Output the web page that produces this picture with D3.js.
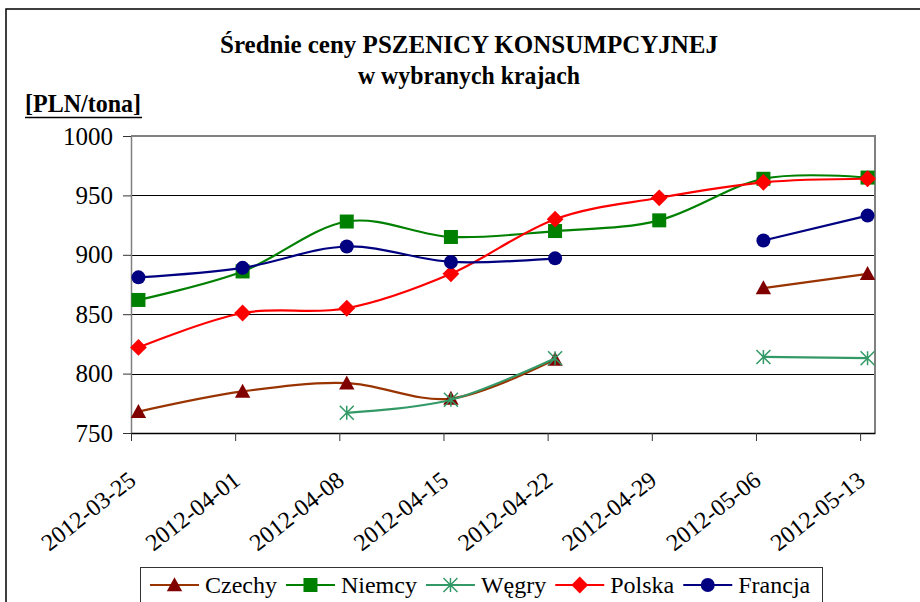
<!DOCTYPE html>
<html>
<head>
<meta charset="utf-8">
<script src="https://cdn.jsdelivr.net/npm/d3@7"></script>
<style>
  body { margin: 0; background: #fff; }
</style>
</head>
<body>
<div id="chart"></div>
<script>
"use strict";

// dates (weekly) and prices in PLN/tona, null = no quote
var dates = ["2012-03-25", "2012-04-01", "2012-04-08", "2012-04-15",
             "2012-04-22", "2012-04-29", "2012-05-06", "2012-05-13"];
var czechy  = [768, 785, 792, 779, 812, null, 872, 884];
var niemcy  = [862, 886, 928, 915, 920, 929, 964, 965];
var wegry   = [null, null, 767, 778, 813, null, 814, 813];
var polska  = [822, 851, 855, 884, 930, 948, 961, 964];
var francja = [881, 889, 907, 894, 897, null, 912, 933];
var yTicks = [750, 800, 850, 900, 950, 1000];

var series = [
    {name: "Czechy",  values: czechy,  line: "#993300", fill: "#800000", shape: "triangle"},
    {name: "Niemcy",  values: niemcy,  line: "#008000", fill: "#008000", shape: "square"},
    {name: "Węgry",   values: wegry,   line: "#339966", fill: "#339966", shape: "star"},
    {name: "Polska",  values: polska,  line: "#ff0000", fill: "#ff0000", shape: "diamond"},
    {name: "Francja", values: francja, line: "#000080", fill: "#000080", shape: "circle"}
];

var W = 920, H = 602;
var plot = {left: 131, top: 136, right: 875, bottom: 433};
var serif = "Liberation Serif";

var parseTime = d3.timeParse("%Y-%m-%d");
var dayMs = 24 * 3600 * 1000;

// date axis: one slot per day, points sit in the middle of their day
var x = d3.scaleTime()
    .domain([parseTime(dates[0]), new Date(+parseTime(dates[dates.length - 1]) + dayMs)])
    .range([plot.left, plot.right]);
var y = d3.scaleLinear().domain([750, 1000]).range([plot.bottom, plot.top]);

var svg = d3.select("#chart").append("svg")
    .attr("width", W)
    .attr("height", H)
    .attr("font-family", serif);

// outer frame
svg.append("rect")
    .attr("x", 6).attr("y", 9)
    .attr("width", 1000).attr("height", 1000)
    .attr("fill", "none")
    .attr("stroke", "#000")
    .attr("stroke-width", 1.5);

// titles
svg.append("text")
    .attr("x", 469).attr("y", 53)
    .attr("text-anchor", "middle")
    .attr("font-family", serif)
    .attr("font-weight", "bold")
    .attr("font-size", 25)
    .attr("textLength", 498)
    .attr("lengthAdjust", "spacingAndGlyphs")
    .text("Średnie ceny PSZENICY KONSUMPCYJNEJ");

svg.append("text")
    .attr("x", 469).attr("y", 84)
    .attr("text-anchor", "middle")
    .attr("font-family", serif)
    .attr("font-weight", "bold")
    .attr("font-size", 25)
    .attr("textLength", 222)
    .attr("lengthAdjust", "spacingAndGlyphs")
    .text("w wybranych krajach");

svg.append("text")
    .attr("x", 25).attr("y", 112)
    .attr("font-family", serif)
    .attr("font-weight", "bold")
    .attr("font-size", 25)
    .attr("textLength", 116)
    .attr("lengthAdjust", "spacingAndGlyphs")
    .text("[PLN/tona]");
svg.append("line")
    .attr("x1", 25).attr("x2", 142)
    .attr("y1", 117.5).attr("y2", 117.5)
    .attr("stroke", "#000").attr("stroke-width", 1.5);

// gridlines
svg.append("g").selectAll("line")
    .data(yTicks.filter(function(d) { return d > 750 && d < 1000; }))
    .enter().append("line")
    .attr("x1", plot.left).attr("x2", plot.right)
    .attr("y1", function(d) { return Math.round(y(d)) + 0.5; })
    .attr("y2", function(d) { return Math.round(y(d)) + 0.5; })
    .attr("stroke", "#000")
    .attr("stroke-width", 1);

// plot border (top/right gray)
svg.append("path")
    .attr("d", "M" + plot.left + "," + plot.top + "H" + plot.right + "V" + plot.bottom)
    .attr("fill", "none")
    .attr("stroke", "#808080")
    .attr("stroke-width", 2);

// y axis
var yAxis = svg.append("g")
    .attr("transform", "translate(" + plot.left + ",0)")
    .call(d3.axisLeft(y).tickValues(yTicks).tickFormat(d3.format("d"))
        .tickSize(8).tickPadding(10).tickSizeOuter(0));
yAxis.attr("font-family", serif);
yAxis.select(".domain").attr("stroke", "#808080").attr("stroke-width", 1.5);
yAxis.selectAll(".tick line").attr("stroke", "#333");
yAxis.selectAll("text")
    .attr("font-family", serif)
    .attr("font-size", 25)
    .attr("fill", "#000");

// x axis
var xTickDates = dates.map(parseTime);
var xAxis = svg.append("g")
    .attr("transform", "translate(0," + plot.bottom + ")")
    .call(d3.axisBottom(x).tickValues(xTickDates).tickSize(8).tickSizeOuter(0)
        .tickFormat(d3.timeFormat("%Y-%m-%d")));
xAxis.attr("font-family", serif);
xAxis.select(".domain").attr("stroke", "#000").attr("stroke-width", 1.5);
xAxis.selectAll(".tick line").attr("stroke", "#333");
xAxis.selectAll("text")
    .attr("font-family", serif)
    .attr("font-size", 24)
    .attr("fill", "#000")
    .attr("text-anchor", "end")
    .attr("dy", null)
    .attr("y", 0)
    .attr("transform", "translate(6,50) rotate(-38)");

// markers
function drawMarker(g, shape, fill, size) {
    var s = size;
    if (shape === "triangle") {
        g.append("path")
            .attr("d", "M0," + (-s * 0.55) + "L" + (s * 0.55) + "," + (s * 0.45) + "L" + (-s * 0.55) + "," + (s * 0.45) + "Z")
            .attr("fill", fill);
    } else if (shape === "square") {
        g.append("rect")
            .attr("x", -s / 2).attr("y", -s / 2)
            .attr("width", s).attr("height", s)
            .attr("fill", fill);
    } else if (shape === "diamond") {
        var r = s * 0.6;
        g.append("path")
            .attr("d", "M0," + (-r) + "L" + r + ",0L0," + r + "L" + (-r) + ",0Z")
            .attr("fill", fill);
    } else if (shape === "circle") {
        g.append("circle").attr("r", s / 2).attr("fill", fill);
    } else if (shape === "star") {
        var h = s / 2;
        g.append("path")
            .attr("d", "M" + (-h) + "," + (-h) + "L" + h + "," + h +
                       "M" + h + "," + (-h) + "L" + (-h) + "," + h +
                       "M0," + (-h) + "L0," + h)
            .attr("stroke", fill)
            .attr("stroke-width", 1.5)
            .attr("fill", "none");
    }
}

var valueline = d3.line()
    .defined(function(d) { return d.v != null; })
    .x(function(d) { return x(d.date); })
    .y(function(d) { return y(d.v); })
    .curve(d3.curveCatmullRom.alpha(0));

series.forEach(function(s) {
    var pts = s.values.map(function(v, i) {
        return {date: new Date(+parseTime(dates[i]) + dayMs / 2), v: v};
    });
    var g = svg.append("g");
    g.append("path")
        .datum(pts)
        .attr("d", valueline)
        .attr("fill", "none")
        .attr("stroke", s.line)
        .attr("stroke-width", 2.2);
    pts.filter(function(d) { return d.v != null; }).forEach(function(d) {
        var m = g.append("g")
            .attr("transform", "translate(" + x(d.date) + "," + y(d.v) + ")");
        drawMarker(m, s.shape, s.fill, 14);
    });
});

// legend
var legend = svg.append("g");
legend.append("rect")
    .attr("x", 140.5).attr("y", 567.5)
    .attr("width", 682).attr("height", 60)
    .attr("fill", "#fff")
    .attr("stroke", "#333")
    .attr("stroke-width", 1);

var lx = 150;
series.forEach(function(s) {
    var item = legend.append("g").attr("transform", "translate(" + lx + ",585)");
    item.append("line")
        .attr("x1", 0).attr("x2", 49)
        .attr("stroke", s.line)
        .attr("stroke-width", 2.2);
    var m = item.append("g").attr("transform", "translate(24.5,0)");
    drawMarker(m, s.shape, s.fill, 14);
    var t = item.append("text")
        .attr("x", 55).attr("y", 8)
        .attr("font-family", serif)
        .attr("font-size", 24)
        .text(s.name);
    lx += 55 + t.node().getComputedTextLength() + 9;
});
</script>
</body>
</html>
